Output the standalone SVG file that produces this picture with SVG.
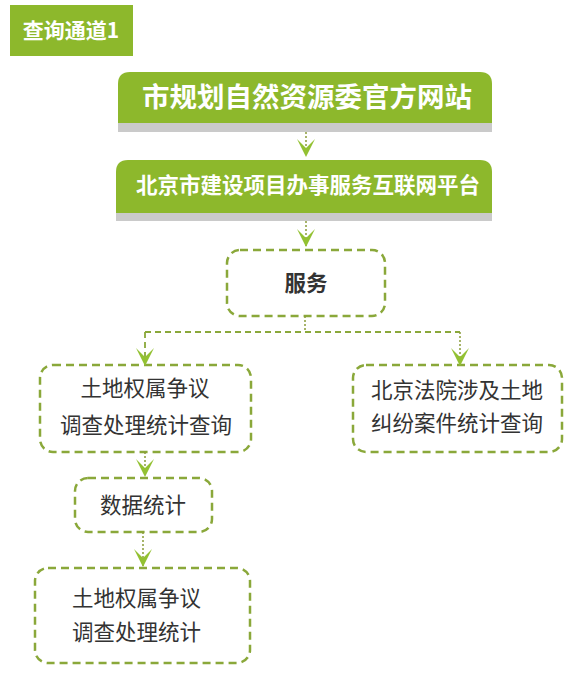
<svg xmlns="http://www.w3.org/2000/svg" width="582" height="674" viewBox="0 0 582 674">
<defs>
<style>
.banner{fill:#8db82c}
.band{fill:#cacaca}
.btxt{font-family:"Noto Sans CJK SC","Noto Sans",sans-serif;font-weight:bold;fill:#ffffff;text-anchor:middle}
.box{fill:#ffffff;stroke:#8aa83a;stroke-width:2.5;stroke-dasharray:8 5}
.txt{font-family:"Noto Sans CJK SC","Noto Sans",sans-serif;font-size:21.5px;fill:#333333;text-anchor:middle}
.conn{fill:none;stroke:#8a9c3a;stroke-width:1.5;stroke-dasharray:2 2}
.connd{fill:none;stroke:#8aa83a;stroke-width:1.8;stroke-dasharray:6 4}
.head{fill:#93c132}
</style>
<path id="ah" d="M-9,-18 L0,-9 L9,-18 L0,0 Z"/>
</defs>
<rect x="0" y="0" width="582" height="674" fill="#ffffff"/>

<g id="tag">
<rect x="10" y="5" width="123" height="51" class="banner"/>
<text x="71" y="38" class="btxt" font-size="21">查询通道1</text>
</g>

<g id="site1">
<rect x="118" y="123" width="374" height="9" class="band"/>
<path d="M118,123 L118,84 Q118,72 130,72 L480,72 Q492,72 492,84 L492,123 Z" class="banner"/>
<text x="307" y="107" class="btxt" font-size="27.5">市规划自然资源委官方网站</text>
</g>

<g id="site2">
<rect x="116" y="213" width="376" height="8" class="band"/>
<path d="M116,213 L116,172 Q116,160 128,160 L480,160 Q492,160 492,172 L492,213 Z" class="banner"/>
<text x="308" y="193" class="btxt" font-size="21.5">北京市建设项目办事服务互联网平台</text>
</g>

<g id="service">
<rect x="227" y="250" width="158" height="66" rx="13" class="box"/>
<text x="306" y="291" class="txt" font-weight="bold" fill="#222" font-size="22">服务</text>
</g>

<g id="landquery">
<rect x="40" y="365" width="211" height="87" rx="13" class="box"/>
<text x="145" y="396" class="txt">土地权属争议</text>
<text x="146" y="433" class="txt">调查处理统计查询</text>
</g>

<g id="courtquery">
<rect x="353" y="365" width="209" height="87" rx="13" class="box"/>
<text x="457" y="398" class="txt">北京法院涉及土地</text>
<text x="457" y="431" class="txt">纠纷案件统计查询</text>
</g>

<g id="stats">
<rect x="75" y="478" width="137" height="54" rx="13" class="box"/>
<text x="143" y="513" class="txt">数据统计</text>
</g>

<g id="landstats">
<rect x="35" y="568" width="215" height="95" rx="13" class="box"/>
<text x="72" y="606" class="txt" style="text-anchor:start">土地权属争议</text>
<text x="72" y="640" class="txt" style="text-anchor:start">调查处理统计</text>
</g>

<g id="connectors">
<line x1="306" y1="132" x2="306" y2="156" class="conn"/>
<use href="#ah" x="306" y="157" class="head"/>
<line x1="306" y1="221" x2="306" y2="246" class="conn"/>
<use href="#ah" x="306" y="247" class="head"/>
<line x1="305" y1="316" x2="305" y2="332" class="conn"/>
<line x1="145" y1="332" x2="460" y2="332" class="connd"/>
<line x1="145" y1="332" x2="145" y2="364" class="connd"/>
<line x1="460" y1="332" x2="460" y2="364" class="conn"/>
<use href="#ah" x="145" y="366" class="head"/>
<use href="#ah" x="460" y="366" class="head"/>
<line x1="145" y1="452" x2="145" y2="476" class="conn"/>
<use href="#ah" x="145" y="477" class="head"/>
<line x1="143" y1="532" x2="143" y2="566" class="conn"/>
<use href="#ah" x="143" y="567" class="head"/>
</g>
</svg>
